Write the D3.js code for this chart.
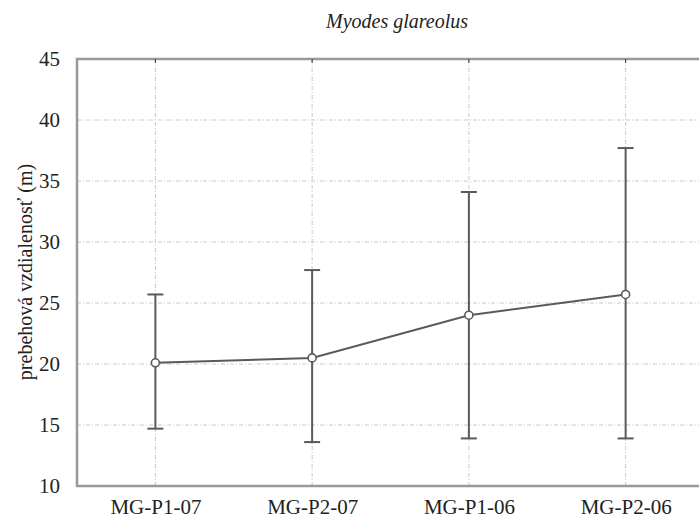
<!DOCTYPE html>
<html>
<head>
<meta charset="utf-8">
<script src="https://cdn.jsdelivr.net/npm/d3@7"></script>
<style>
  body { margin: 0; background: #fff; }
  svg text { font-family: "Liberation Serif", "Times New Roman", Times, "DejaVu Serif", serif !important; }
</style>
</head>
<body>
<svg id="chart" width="699" height="520"></svg>
<script>
const categories = ["MG-P1-07", "MG-P2-07", "MG-P1-06", "MG-P2-06"];
const means = [20.1, 20.5, 24.0, 25.7];
const upper = [25.7, 27.7, 34.1, 37.7];
const lower = [14.7, 13.6, 13.9, 13.9];
const yTicks = [10, 15, 20, 25, 30, 35, 40, 45];
const title = "Myodes glareolus";
const yTitle = "prebehová vzdialenosť (m)";

const svg = d3.select("#chart");
const margin = { left: 77, top: 59, right: -5, bottom: 35 };
const W = 699, H = 520;
const x0 = margin.left, x1 = W - margin.right;
const y0 = H - margin.bottom, y1 = margin.top;

const x = d3.scalePoint().domain(categories).range([x0, x1]).padding(0.5);
const y = d3.scaleLinear().domain([10, 45]).range([y0 + 1, y1]);

const gridColor = "#c8c8c8";
const dash = "4,2,1,2";

svg.append("g").selectAll("line").data(yTicks.filter(d => d > 10 && d < 45)).join("line")
  .attr("x1", x0).attr("x2", x1)
  .attr("y1", d => y(d)).attr("y2", d => y(d))
  .attr("stroke", gridColor).attr("stroke-width", 1).attr("stroke-dasharray", dash);

svg.append("g").selectAll("line").data(categories).join("line")
  .attr("x1", d => x(d)).attr("x2", d => x(d))
  .attr("y1", y1).attr("y2", y0)
  .attr("stroke", gridColor).attr("stroke-width", 1).attr("stroke-dasharray", dash);

svg.append("path")
  .attr("d", `M${x1},${y1}H${x0}V${y0 + 1}H${x1}`)
  .attr("fill", "none").attr("stroke", "#999").attr("stroke-width", 2.5);

svg.append("g").selectAll("line").data(categories).join("line")
  .attr("x1", d => x(d)).attr("x2", d => x(d))
  .attr("y1", y1).attr("y2", y1 + 4)
  .attr("stroke", "#333").attr("stroke-width", 1);

const yAxis = d3.axisLeft(y).tickValues(yTicks).tickSize(0).tickPadding(17).tickFormat(d3.format("d"));
const gy = svg.append("g").attr("transform", `translate(${x0},0)`).call(yAxis);
gy.select(".domain").remove();
gy.selectAll("text").attr("font-size", 21).attr("fill", "#222");

const xAxis = d3.axisBottom(x).tickSize(0).tickPadding(14);
const gx = svg.append("g").attr("transform", `translate(0,${y0})`).call(xAxis);
gx.select(".domain").remove();
gx.selectAll("text").attr("font-size", 21).attr("fill", "#222");

svg.append("text")
  .attr("transform", `translate(32,${(y0 + y1) / 2}) rotate(-90)`)
  .attr("text-anchor", "middle")
  .attr("font-size", 20).attr("fill", "#222")
  .text(yTitle);

svg.append("text")
  .attr("x", 397).attr("y", 28)
  .attr("text-anchor", "middle")
  .attr("font-size", 20).attr("font-style", "italic").attr("fill", "#222")
  .text(title);

const data = categories.map((c, i) => ({ c, m: means[i], u: upper[i], l: lower[i] }));
const lineColor = "#5a5a5a";

const eb = svg.append("g");
eb.selectAll(".v").data(data).join("line")
  .attr("x1", d => x(d.c)).attr("x2", d => x(d.c))
  .attr("y1", d => y(d.u)).attr("y2", d => y(d.l))
  .attr("stroke", lineColor).attr("stroke-width", 2);
eb.selectAll(".cu").data(data).join("line")
  .attr("x1", d => x(d.c) - 8).attr("x2", d => x(d.c) + 8)
  .attr("y1", d => y(d.u)).attr("y2", d => y(d.u))
  .attr("stroke", lineColor).attr("stroke-width", 2);
eb.selectAll(".cl").data(data).join("line")
  .attr("x1", d => x(d.c) - 8).attr("x2", d => x(d.c) + 8)
  .attr("y1", d => y(d.l)).attr("y2", d => y(d.l))
  .attr("stroke", lineColor).attr("stroke-width", 2);

svg.append("path").datum(data)
  .attr("d", d3.line().x(d => x(d.c)).y(d => y(d.m)))
  .attr("fill", "none").attr("stroke", lineColor).attr("stroke-width", 2);

svg.append("g").selectAll("circle").data(data).join("circle")
  .attr("cx", d => x(d.c)).attr("cy", d => y(d.m)).attr("r", 4)
  .attr("fill", "#fff").attr("stroke", lineColor).attr("stroke-width", 1.6);
</script>
</body>
</html>
